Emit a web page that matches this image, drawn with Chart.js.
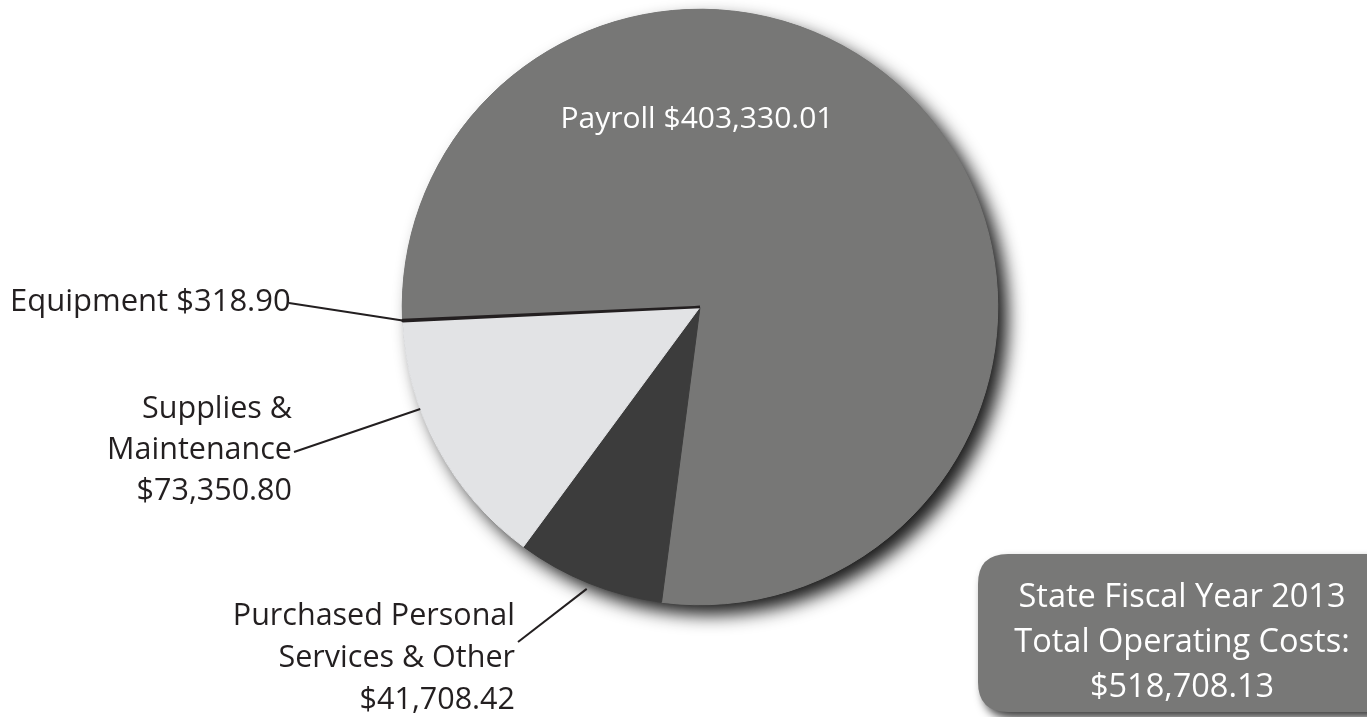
<!DOCTYPE html>
<html>
<head>
<meta charset="utf-8">
<script src="https://cdn.jsdelivr.net/npm/chart.js@4.4.0/dist/chart.umd.min.js"></script>
<style>
  html, body { margin: 0; padding: 0; background: #fff; overflow: hidden; }
  canvas { display: block; }
</style>
</head>
<body>
<canvas id="costChart" width="1367" height="717"></canvas>
<script>
// data
const categories = ['Payroll', 'Purchased Personal Services & Other', 'Supplies & Maintenance', 'Equipment'];
const costs = [403330.01, 41708.42, 73350.80, 318.90];
const sliceColors = ['#777776', '#3c3c3c', '#e2e3e5', '#231f20'];
const fiscalYear = 'State Fiscal Year 2013';

function money(v) {
    return '$' + v.toLocaleString('en-US', { minimumFractionDigits: 2, maximumFractionDigits: 2 });
}

const FONT = '"Open Sans", "Noto Sans", sans-serif';
const INK = '#231f20';

// label layout: text lines, where they go, and where the leader line meets the slice
const labelLayout = [
    { index: 0, lines: ['Payroll ' + money(costs[0])], inside: true, dx: -3, dy: -179, color: '#ffffff', size: 30 },
    { index: 1, lines: ['Purchased Personal', 'Services & Other', money(costs[1])], align: 'right', x: 515, y: 625, lineGap: 42, from: [518, 642], frac: 0.5, rOff: 6, size: 30.5 },
    { index: 2, lines: ['Supplies &', 'Maintenance', money(costs[2])], align: 'right', x: 292, y: 418, lineGap: 41, from: [294, 452], frac: 0.66, rOff: 0, size: 30.5 },
    { index: 3, lines: ['Equipment ' + money(costs[3])], align: 'left', x: 10, y: 311, lineGap: 0, from: [289, 303], frac: 0.5, rOff: 0, size: 31 }
];

// drop shadow under the whole pie
const shadowPlugin = {
    id: 'pieShadow',
    beforeDatasetsDraw(chart) {
        const arc = chart.getDatasetMeta(0).data[0];
        const ctx = chart.ctx;
        ctx.save();
        ctx.shadowColor = 'rgba(0, 0, 0, 0.9)';
        ctx.shadowBlur = 18;
        ctx.shadowOffsetX = 10;
        ctx.shadowOffsetY = 10;
        ctx.fillStyle = '#555555';
        ctx.beginPath();
        ctx.arc(arc.x, arc.y, arc.outerRadius, 0, Math.PI * 2);
        ctx.fill();
        ctx.restore();
    }
};

function roundRect(ctx, x, y, w, h, r) {
    ctx.beginPath();
    ctx.moveTo(x + r, y);
    ctx.lineTo(x + w - r, y);
    ctx.quadraticCurveTo(x + w, y, x + w, y + r);
    ctx.lineTo(x + w, y + h - r);
    ctx.quadraticCurveTo(x + w, y + h, x + w - r, y + h);
    ctx.lineTo(x + r, y + h);
    ctx.quadraticCurveTo(x, y + h, x, y + h - r);
    ctx.lineTo(x, y + r);
    ctx.quadraticCurveTo(x, y, x + r, y);
    ctx.closePath();
}

const labelPlugin = {
    id: 'sliceLabels',
    afterDatasetsDraw(chart) {
        const ctx = chart.ctx;
        const arcs = chart.getDatasetMeta(0).data;
        ctx.save();
        ctx.textBaseline = 'alphabetic';

        labelLayout.forEach(lab => {
            const arc = arcs[lab.index];
            ctx.font = lab.size + 'px ' + FONT;
            if (lab.inside) {
                ctx.fillStyle = lab.color;
                ctx.textAlign = 'center';
                ctx.fillText(lab.lines[0], arc.x + lab.dx, arc.y + lab.dy);
                return;
            }
            // leader line
            const a = arc.startAngle + (arc.endAngle - arc.startAngle) * lab.frac;
            const r = arc.outerRadius + lab.rOff;
            ctx.strokeStyle = INK;
            ctx.lineWidth = 2;
            ctx.beginPath();
            ctx.moveTo(lab.from[0], lab.from[1]);
            ctx.lineTo(arc.x + r * Math.cos(a), arc.y + r * Math.sin(a));
            ctx.stroke();

            ctx.fillStyle = INK;
            ctx.textAlign = lab.align;
            lab.lines.forEach((t, i) => {
                ctx.fillText(t, lab.x, lab.y + i * lab.lineGap);
            });
        });

        // total box, bottom right
        const total = costs.reduce((s, v) => s + v, 0);
        const boxLines = [fiscalYear, 'Total Operating Costs:', money(total)];
        ctx.save();
        ctx.shadowColor = 'rgba(0, 0, 0, 0.75)';
        ctx.shadowBlur = 10;
        ctx.shadowOffsetX = 5;
        ctx.shadowOffsetY = 6;
        ctx.fillStyle = '#787877';
        roundRect(ctx, 978, 554, 420, 158, 30);
        ctx.fill();
        ctx.restore();

        ctx.fillStyle = '#ffffff';
        ctx.textAlign = 'center';
        ctx.font = '32.5px ' + FONT;
        boxLines.forEach((t, i) => {
            ctx.fillText(t, 1182, 607 + i * 45);
        });
        ctx.restore();
    }
};

const ctx = document.getElementById('costChart').getContext('2d');
new Chart(ctx, {
    type: 'pie',
    data: {
        labels: categories,
        datasets: [{
            data: costs,
            backgroundColor: sliceColors,
            borderColor: sliceColors,
            borderWidth: [1, 1, 1, 2.5],
            hoverOffset: 0,
            offset: 0
        }]
    },
    options: {
        responsive: false,
        animation: false,
        events: [],
        rotation: 267.5,
        layout: {
            padding: { left: 401, right: 368, top: 8, bottom: 111 }
        },
        plugins: {
            legend: { display: false },
            tooltip: { enabled: false }
        }
    },
    plugins: [shadowPlugin, labelPlugin]
});
</script>
</body>
</html>
